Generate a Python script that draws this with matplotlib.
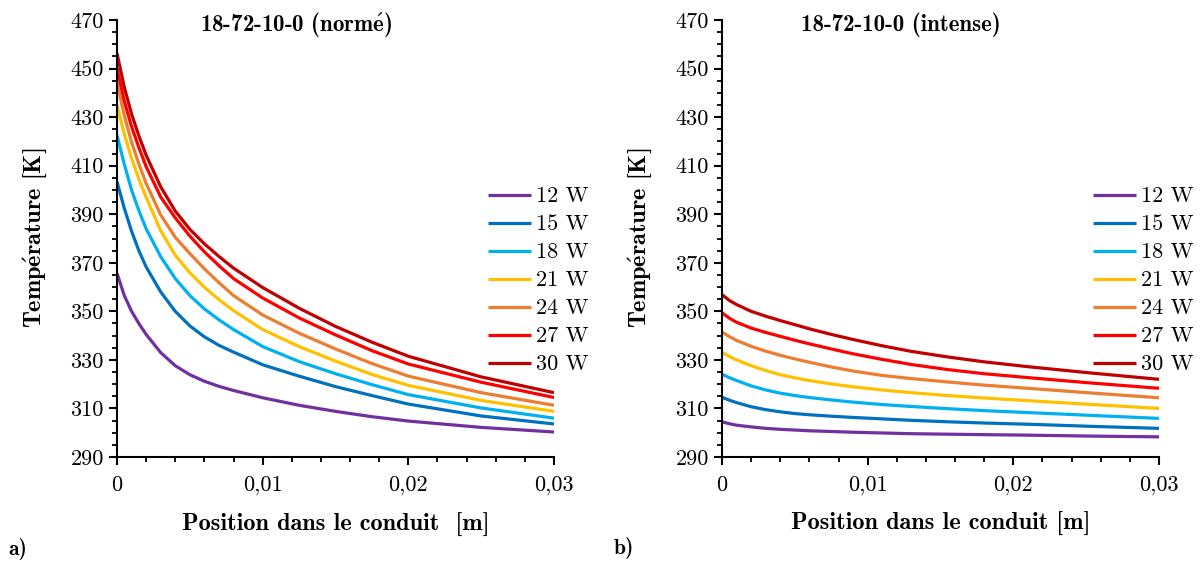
import matplotlib
matplotlib.use("Agg")
import matplotlib.pyplot as plt
from matplotlib.ticker import MultipleLocator, FixedLocator, FixedFormatter

plt.rcParams["mathtext.fontset"] = "cm"
plt.rcParams["font.family"] = ["cmr10", "DejaVu Serif"]

# ---------------- data ----------------
powers = ["12 W", "15 W", "18 W", "21 W", "24 W", "27 W", "30 W"]
colors = ["#7030A0", "#0070C0", "#00B0F0", "#FFC000", "#ED7D31", "#FF0000", "#C00000"]

# a) 18-72-10-0 (normé)
x_a = [0, 0.0005, 0.001, 0.0015, 0.002, 0.003, 0.004, 0.005, 0.006, 0.007,
       0.008, 0.010, 0.0125, 0.015, 0.0175, 0.02, 0.025, 0.03]
t_a_12 = [365.7, 356.5, 350.0, 345.0, 340.5, 333.0, 327.6, 323.9, 321.2, 319.1,
          317.4, 314.4, 311.3, 308.8, 306.6, 304.8, 302.2, 300.3]
t_a_15 = [403.4, 392.5, 383.0, 375.0, 368.3, 358.0, 350.0, 344.0, 339.5, 336.0,
          333.2, 328.0, 323.3, 319.0, 315.3, 311.8, 306.9, 303.6]
t_a_18 = [422.6, 410.6, 400.0, 391.5, 384.0, 372.5, 363.5, 356.5, 351.0, 346.5,
          342.5, 335.5, 329.3, 324.3, 319.8, 315.7, 310.2, 306.0]
t_a_21 = [435.0, 423.0, 413.0, 404.5, 397.0, 383.2, 373.1, 365.9, 359.9, 354.8,
          350.3, 342.5, 335.5, 329.5, 324.0, 319.5, 313.3, 308.8]
t_a_24 = [444.2, 430.7, 419.7, 410.7, 402.7, 389.7, 380.5, 373.8, 367.5, 361.8,
          356.5, 348.5, 341.0, 334.5, 328.5, 323.3, 316.5, 311.3]
t_a_27 = [450.1, 436.6, 426.1, 417.5, 409.6, 397.1, 388.5, 381.0, 374.5, 368.8,
          363.5, 355.5, 347.3, 340.3, 333.8, 328.3, 320.8, 314.5]
t_a_30 = [456.3, 442.3, 431.3, 422.3, 414.3, 401.3, 391.3, 383.8, 377.8, 372.6,
          367.8, 359.8, 351.3, 343.8, 337.3, 331.5, 323.0, 316.5]

# b) 18-72-10-0 (intense)
x_b = [0, 0.0005, 0.001, 0.002, 0.003, 0.004, 0.005, 0.006, 0.0075, 0.009,
       0.011, 0.013, 0.0155, 0.018, 0.021, 0.0255, 0.03]
t_b_12 = [304.5, 303.7, 303.1, 302.4, 301.8, 301.4, 301.1, 300.8, 300.5, 300.2,
          299.9, 299.6, 299.4, 299.2, 299.0, 298.6, 298.3]
t_b_15 = [314.6, 313.4, 312.4, 310.7, 309.5, 308.6, 307.9, 307.4, 306.8, 306.3,
          305.7, 305.1, 304.5, 304.0, 303.5, 302.6, 301.8]
t_b_18 = [324.1, 322.7, 321.5, 319.3, 317.6, 316.3, 315.3, 314.5, 313.5, 312.6,
          311.6, 310.8, 309.9, 309.1, 308.3, 307.1, 305.9]
t_b_21 = [333.1, 331.4, 330.0, 327.6, 325.6, 323.9, 322.6, 321.5, 320.1, 318.9,
          317.6, 316.5, 315.3, 314.3, 313.2, 311.6, 310.0]
t_b_24 = [341.5, 339.6, 338.0, 335.6, 333.6, 331.9, 330.4, 329.0, 327.1, 325.4,
          323.6, 322.3, 320.9, 319.6, 318.3, 316.3, 314.4]
t_b_27 = [349.4, 347.2, 345.5, 343.1, 341.3, 339.7, 338.1, 336.6, 334.5, 332.5,
          330.2, 328.1, 326.0, 324.3, 322.7, 320.4, 318.3]
t_b_30 = [356.9, 354.5, 352.8, 350.0, 348.0, 346.2, 344.5, 342.8, 340.5, 338.4,
          335.8, 333.5, 331.2, 329.2, 327.2, 324.5, 322.0]

x_ticks = [0, 0.01, 0.02, 0.03]
x_ticklabels = ["0", "0,01", "0,02", "0,03"]
y_ticks = [290, 310, 330, 350, 370, 390, 410, 430, 450, 470]

titles = ["18-72-10-0 (norm$\\mathbf{\\acute{e}}$)", "18-72-10-0 (intense)"]
ylabel = "Temp$\\mathbf{\\acute{e}}$rature [K]"
xlabels = ["Position dans le conduit  [m]", "Position dans le conduit [m]"]
panel_tags = ["a)", "b)"]

series_a = [t_a_12, t_a_15, t_a_18, t_a_21, t_a_24, t_a_27, t_a_30]
series_b = [t_b_12, t_b_15, t_b_18, t_b_21, t_b_24, t_b_27, t_b_30]

# ---------------- figure ----------------
W, H = 1201, 563
fig = plt.figure(figsize=(W / 100, H / 100), dpi=100)
BOLD = ["cmb10", "DejaVu Serif"]

ax_lefts = [117, 722]
title_x = [0.41, 0.41]
for i, (xs, series) in enumerate([(x_a, series_a), (x_b, series_b)]):
    left = ax_lefts[i]
    ax = fig.add_axes([left / W, (H - 457) / H, 437 / W, 437 / H])
    for lab, col, ys in zip(powers, colors, series):
        ax.plot(xs, ys, color=col, lw=2.3, label=lab, solid_capstyle="butt",
                solid_joinstyle="round")
    ax.set_xlim(0, 0.03)
    ax.set_ylim(290, 470)
    ax.xaxis.set_major_locator(FixedLocator(x_ticks))
    ax.xaxis.set_major_formatter(FixedFormatter(x_ticklabels))
    ax.xaxis.set_minor_locator(MultipleLocator(0.002))
    ax.yaxis.set_major_locator(FixedLocator(y_ticks))
    ax.yaxis.set_major_formatter(FixedFormatter([str(v) for v in y_ticks]))
    ax.yaxis.set_minor_locator(MultipleLocator(5))
    for s in ["top", "right"]:
        ax.spines[s].set_visible(False)
    for s in ["left", "bottom"]:
        ax.spines[s].set_linewidth(1.5)
        ax.spines[s].set_color("black")
    ax.tick_params(which="major", direction="out", length=5.5, width=1.5,
                   labelsize=16, colors="black")
    ax.tick_params(which="minor", direction="out", length=3.5, width=1.3)
    ax.tick_params(axis="x", which="major", pad=8)
    ax.tick_params(axis="y", which="major", pad=4)
    ax.legend(loc="upper right", bbox_to_anchor=(1.078, 0.618),
              frameon=False, fontsize=16, handlelength=1.9,
              handletextpad=0.22, labelspacing=0.38, borderaxespad=0,
              borderpad=0)
    ax.text(title_x[i], 0.9886, titles[i], transform=ax.transAxes, ha="center",
            va="center", fontsize=16.5, fontfamily=BOLD)

# axis labels and panel tags
for xc in (35, 640):
    fig.text(xc / W, 1 - 238 / H, ylabel, rotation=90, ha="center",
             va="center", fontsize=17.5, fontfamily=BOLD)
fig.text(336 / W, 1 - 525 / H, xlabels[0], ha="center", va="center",
         fontsize=17.5, fontfamily=BOLD)
fig.text(941 / W, 1 - 524 / H, xlabels[1], ha="center", va="center",
         fontsize=17.5, fontfamily=BOLD)
fig.text(18 / W, 1 - 549 / H, panel_tags[0], ha="center", va="center",
         fontsize=15.5, fontfamily=BOLD)
fig.text(624 / W, 1 - 548 / H, panel_tags[1], ha="center", va="center",
         fontsize=15.5, fontfamily=BOLD)

fig.savefig("out.png", dpi=100, facecolor="white")
